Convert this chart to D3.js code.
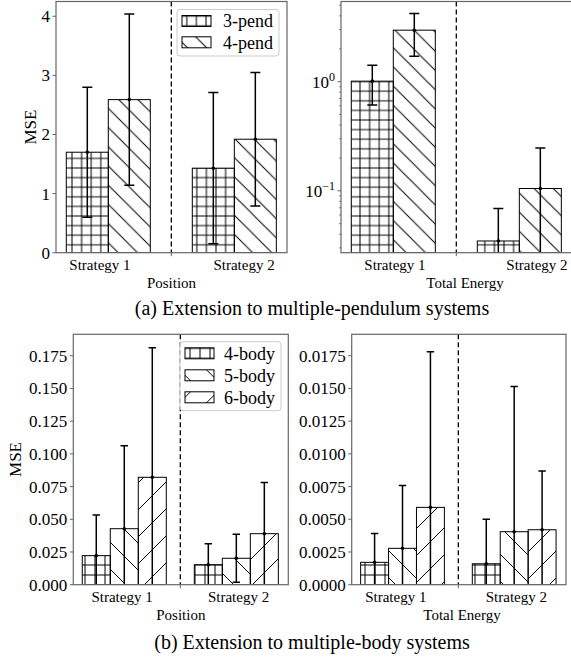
<!DOCTYPE html>
<html>
<head>
<meta charset="utf-8">
<script src="https://cdnjs.cloudflare.com/ajax/libs/d3/7.8.5/d3.min.js"></script>
<style>
  body { margin: 0; background: #fff; }
</style>
</head>
<body>
<svg width="571" height="659"></svg>
<script>
// ---- data ----
var strategies = ["Strategy 1", "Strategy 2"];

var pendSeries = ["3-pend", "4-pend"];
var pendPosMean = [[1.70, 1.43], [2.59, 1.92]];
var pendPosErr = [[1.10, 1.28], [1.45, 1.13]];
var pendEnergyMean = [[1.01, 0.0347], [2.96, 0.105]];
var pendEnergyErr = [[0.40, 0.034], [1.25, 0.142]];

var bodySeries = ["4-body", "5-body", "6-body"];
var bodyPosMean = [[0.0222, 0.0153], [0.0428, 0.0202], [0.0821, 0.0390]];
var bodyPosErr = [[0.031, 0.016], [0.0634, 0.0183], [0.099, 0.0392]];
var bodyEnergyMean = [[0.00171, 0.0016], [0.00278, 0.00405], [0.00591, 0.0042]];
var bodyEnergyErr = [[0.0022, 0.0034], [0.0048, 0.0111], [0.0119, 0.0045]];

var pendPosTicks = [0, 1, 2, 3, 4];
var pendEnergyTicks = [0.1, 1];
var bodyPosTicks = [0, 0.025, 0.05, 0.075, 0.1, 0.125, 0.15, 0.175];
var bodyEnergyTicks = [0, 0.0025, 0.005, 0.0075, 0.01, 0.0125, 0.015, 0.0175];

var captions = ["(a) Extension to multiple-pendulum systems", "(b) Extension to multiple-body systems"];

var FONT = "'Liberation Serif', 'Times New Roman', serif";
var svg = d3.select("svg").attr("font-family", FONT);
var defs = svg.append("defs");
var spine = "#666";

function txt(sel) {
    return sel.append("text").attr("font-family", FONT).attr("fill", "#000");
}

// hatch patterns
function hatch(id, s, kind) {
    var p = defs.append("pattern").attr("id", id)
        .attr("patternUnits", "userSpaceOnUse")
        .attr("width", s).attr("height", s);
    var d;
    if (kind == "+") d = "M0," + s / 2 + "H" + s + "M" + s / 2 + ",0V" + s;
    else if (kind == "\\") d = "M0,0L" + s + "," + s + "M-1," + (s - 1) + "L1," + (s + 1) + "M" + (s - 1) + ",-1L" + (s + 1) + ",1";
    else d = "M0," + s + "L" + s + ",0M-1,1L1,-1M" + (s - 1) + "," + (s + 1) + "L" + (s + 1) + "," + (s - 1);
    p.append("path").attr("d", d).attr("stroke", "#000").attr("stroke-width", 1).attr("fill", "none");
    return "url(#" + id + ")";
}
var hatchA = [hatch("ha0", 9.6, "+"), hatch("ha1", 19.2, "\\")];
var hatchB = [hatch("hb0", 10, "+"), hatch("hb1", 27, "\\"), hatch("hb2", 27, "/")];

var clipN = 0;
function drawPanel(o) {
    var g = svg.append("g");
    var x = d3.scaleLinear().domain(o.xDomain).range([o.left, o.right]);
    var y = (o.log ? d3.scaleLog() : d3.scaleLinear()).domain(o.yDomain).range([o.bottom, o.top]);
    var n = o.mean.length, w = o.barWidth;

    var cid = "clip" + (clipN++);
    defs.append("clipPath").attr("id", cid).append("rect")
        .attr("x", o.left).attr("y", o.top).attr("width", o.right - o.left).attr("height", o.bottom - o.top);
    var plot = g.append("g").attr("clip-path", "url(#" + cid + ")");

    var bars = [];
    o.mean.forEach(function (row, i) {
        row.forEach(function (m, j) {
            bars.push({i: i, cx: j + (i - (n - 1) / 2) * w, m: m, e: o.err[i][j]});
        });
    });

    plot.selectAll("rect.bg").data(bars).enter().append("rect")
        .attr("x", function (d) { return x(d.cx - w / 2); })
        .attr("width", function (d) { return x(d.cx + w / 2) - x(d.cx - w / 2); })
        .attr("y", function (d) { return y(d.m); })
        .attr("height", function (d) { return o.bottom - y(d.m); })
        .attr("fill", "#fff");
    plot.selectAll("rect.h").data(bars).enter().append("rect")
        .attr("x", function (d) { return x(d.cx - w / 2); })
        .attr("width", function (d) { return x(d.cx + w / 2) - x(d.cx - w / 2); })
        .attr("y", function (d) { return y(d.m); })
        .attr("height", function (d) { return o.bottom - y(d.m); })
        .attr("fill", function (d) { return o.hatches[d.i]; })
        .attr("stroke", "#000").attr("stroke-width", 1);

    // error bars
    function lo(d) {
        var v = d.m - d.e;
        if (v <= o.yDomain[0]) return o.bottom + 5;
        return y(v);
    }
    var eb = plot.selectAll("g.eb").data(bars).enter().append("g");
    eb.append("line")
        .attr("x1", function (d) { return x(d.cx); }).attr("x2", function (d) { return x(d.cx); })
        .attr("y1", function (d) { return y(d.m + d.e); }).attr("y2", lo)
        .attr("stroke", "#000").attr("stroke-width", 1.5);
    eb.append("line")
        .attr("x1", function (d) { return x(d.cx) - o.cap; }).attr("x2", function (d) { return x(d.cx) + o.cap; })
        .attr("y1", function (d) { return y(d.m + d.e); }).attr("y2", function (d) { return y(d.m + d.e); })
        .attr("stroke", "#000").attr("stroke-width", 1.5);
    eb.filter(function (d) { return d.m - d.e > o.yDomain[0]; }).append("line")
        .attr("x1", function (d) { return x(d.cx) - o.cap; }).attr("x2", function (d) { return x(d.cx) + o.cap; })
        .attr("y1", lo).attr("y2", lo)
        .attr("stroke", "#000").attr("stroke-width", 1.5);
    eb.append("circle")
        .attr("cx", function (d) { return x(d.cx); }).attr("cy", function (d) { return y(d.m); })
        .attr("r", 1.8).attr("fill", "#000");

    // separator
    g.append("line").attr("x1", x(0.5)).attr("x2", x(0.5)).attr("y1", o.top).attr("y2", o.bottom)
        .attr("stroke", "#000").attr("stroke-width", 1.3).attr("stroke-dasharray", "5,3");
    g.append("line").attr("x1", x(0.5)).attr("x2", x(0.5)).attr("y1", o.bottom).attr("y2", o.bottom + 3.5)
        .attr("stroke", spine).attr("stroke-width", 1);

    // frame
    g.append("rect").attr("x", o.left).attr("y", o.top)
        .attr("width", o.right - o.left).attr("height", o.bottom - o.top)
        .attr("fill", "none").attr("stroke", spine).attr("stroke-width", 1.2);

    // y ticks
    if (o.log) {
        var minors = y.ticks().filter(function (t) { return o.yTicks.indexOf(t) < 0; });
        g.selectAll("line.mn").data(minors).enter().append("line")
            .attr("x1", o.left - 2).attr("x2", o.left)
            .attr("y1", function (d) { return y(d); }).attr("y2", function (d) { return y(d); })
            .attr("stroke", spine).attr("stroke-width", 0.8);
    }
    g.selectAll("line.mj").data(o.yTicks).enter().append("line")
        .attr("x1", o.left - 3.5).attr("x2", o.left)
        .attr("y1", function (d) { return y(d); }).attr("y2", function (d) { return y(d); })
        .attr("stroke", spine).attr("stroke-width", 1);
    var tl = g.selectAll("text.yt").data(o.yTicks).enter().append("text")
        .attr("font-family", FONT)
        .attr("x", o.left - 6).attr("y", function (d) { return y(d); })
        .attr("dy", "0.35em").attr("text-anchor", "end")
        .style("font-size", "17px");
    if (o.log) {
        tl.text("10");
        tl.append("tspan").attr("dy", "-0.55em").style("font-size", "12px")
            .text(function (d) { return Math.round(Math.log10(d)) == 0 ? "0" : "\u22121"; });
    } else {
        tl.text(o.yFormat);
    }

    // x labels
    g.selectAll("text.xt").data(strategies).enter().append("text")
        .attr("font-family", FONT)
        .attr("x", function (d, j) { return x(o.labelX[j]); })
        .attr("y", o.bottom + 12.5).attr("dy", "0.35em")
        .attr("text-anchor", "middle").style("font-size", "15px")
        .text(function (d) { return d; });
    txt(g).attr("x", o.xLabelX).attr("y", o.bottom + 30.5).attr("dy", "0.35em")
        .attr("text-anchor", "middle").style("font-size", "15px").text(o.xLabel);
    if (o.yLabel) {
        txt(g).attr("transform", "translate(" + o.yLabelX + "," + (o.top + o.bottom) / 2 + ") rotate(-90)")
            .attr("dy", "0.35em").attr("text-anchor", "middle").style("font-size", "17px").text(o.yLabel);
    }
    return {x: x, y: y};
}

function drawLegend(o) {
    var g = svg.append("g");
    g.append("rect").attr("x", o.x).attr("y", o.y).attr("width", o.w).attr("height", o.h)
        .attr("rx", 3).attr("fill", "#fff").attr("fill-opacity", 0.8)
        .attr("stroke", "#ccc").attr("stroke-width", 1);
    var it = g.selectAll("g.it").data(o.labels).enter().append("g")
        .attr("transform", function (d, i) { return "translate(" + (o.x + 5) + "," + (o.y + o.first + i * o.step) + ")"; });
    it.append("rect").attr("x", 0).attr("y", -5.5).attr("width", 29).attr("height", 11)
        .attr("fill", "#fff");
    it.append("rect").attr("x", 0).attr("y", -5.5).attr("width", 29).attr("height", 11)
        .attr("fill", function (d, i) { return o.hatches[i]; })
        .attr("stroke", "#000").attr("stroke-width", 1);
    it.append("text").attr("font-family", FONT).attr("x", o.tx).attr("dy", "0.35em").style("font-size", "18px")
        .text(function (d) { return d; });
}

// (a) top row
drawPanel({
    left: 56, right: 287, top: 1.5, bottom: 252.7,
    xDomain: [-0.415, 1.418], yDomain: [0, 4.25], barWidth: 1 / 3,
    mean: pendPosMean, err: pendPosErr, hatches: hatchA, cap: 5,
    yTicks: pendPosTicks, yFormat: function (d) { return d; },
    labelX: [-0.066, 1.077], xLabel: "Position", xLabelX: 171.5,
    yLabel: "MSE", yLabelX: 30
});
drawPanel({
    left: 341, right: 572, top: 1.5, bottom: 252.7, log: true,
    xDomain: [-0.415, 1.418], yDomain: [0.0271, 5.42], barWidth: 1 / 3,
    mean: pendEnergyMean, err: pendEnergyErr, hatches: hatchA, cap: 5,
    yTicks: pendEnergyTicks,
    labelX: [0.013, 1.14], xLabel: "Total Energy", xLabelX: 465
});
drawLegend({x: 177, y: 9.5, w: 102, h: 46.5, first: 11.5, step: 21.3, tx: 41,
    labels: pendSeries, hatches: hatchA});

// (b) bottom row
drawPanel({
    left: 73.3, right: 288.3, top: 334.3, bottom: 584.7,
    xDomain: [-0.455, 1.464], yDomain: [0, 0.1914], barWidth: 0.25,
    mean: bodyPosMean, err: bodyPosErr, hatches: hatchB, cap: 3.7,
    yTicks: bodyPosTicks, yFormat: d3.format(".3f"),
    labelX: [-0.02, 1.02], xLabel: "Position", xLabelX: 180.8,
    yLabel: "MSE", yLabelX: 15
});
drawPanel({
    left: 351.7, right: 566, top: 334.3, bottom: 584.7,
    xDomain: [-0.455, 1.464], yDomain: [0, 0.01914], barWidth: 0.25,
    mean: bodyEnergyMean, err: bodyEnergyErr, hatches: hatchB, cap: 3.7,
    yTicks: bodyEnergyTicks, yFormat: d3.format(".4f"),
    labelX: [-0.06, 1.02], xLabel: "Total Energy", xLabelX: 462
});
drawLegend({x: 180, y: 341.7, w: 101, h: 69, first: 11.6, step: 22, tx: 39,
    labels: bodySeries, hatches: hatchB});

// captions
svg.selectAll("text.cap").data(captions).enter().append("text")
    .attr("font-family", FONT)
    .attr("x", 312).attr("y", function (d, i) { return i == 0 ? 308 : 641.5; })
    .attr("dy", "0.35em").attr("text-anchor", "middle").style("font-size", "20px")
    .text(function (d) { return d; });
</script>
</body>
</html>
